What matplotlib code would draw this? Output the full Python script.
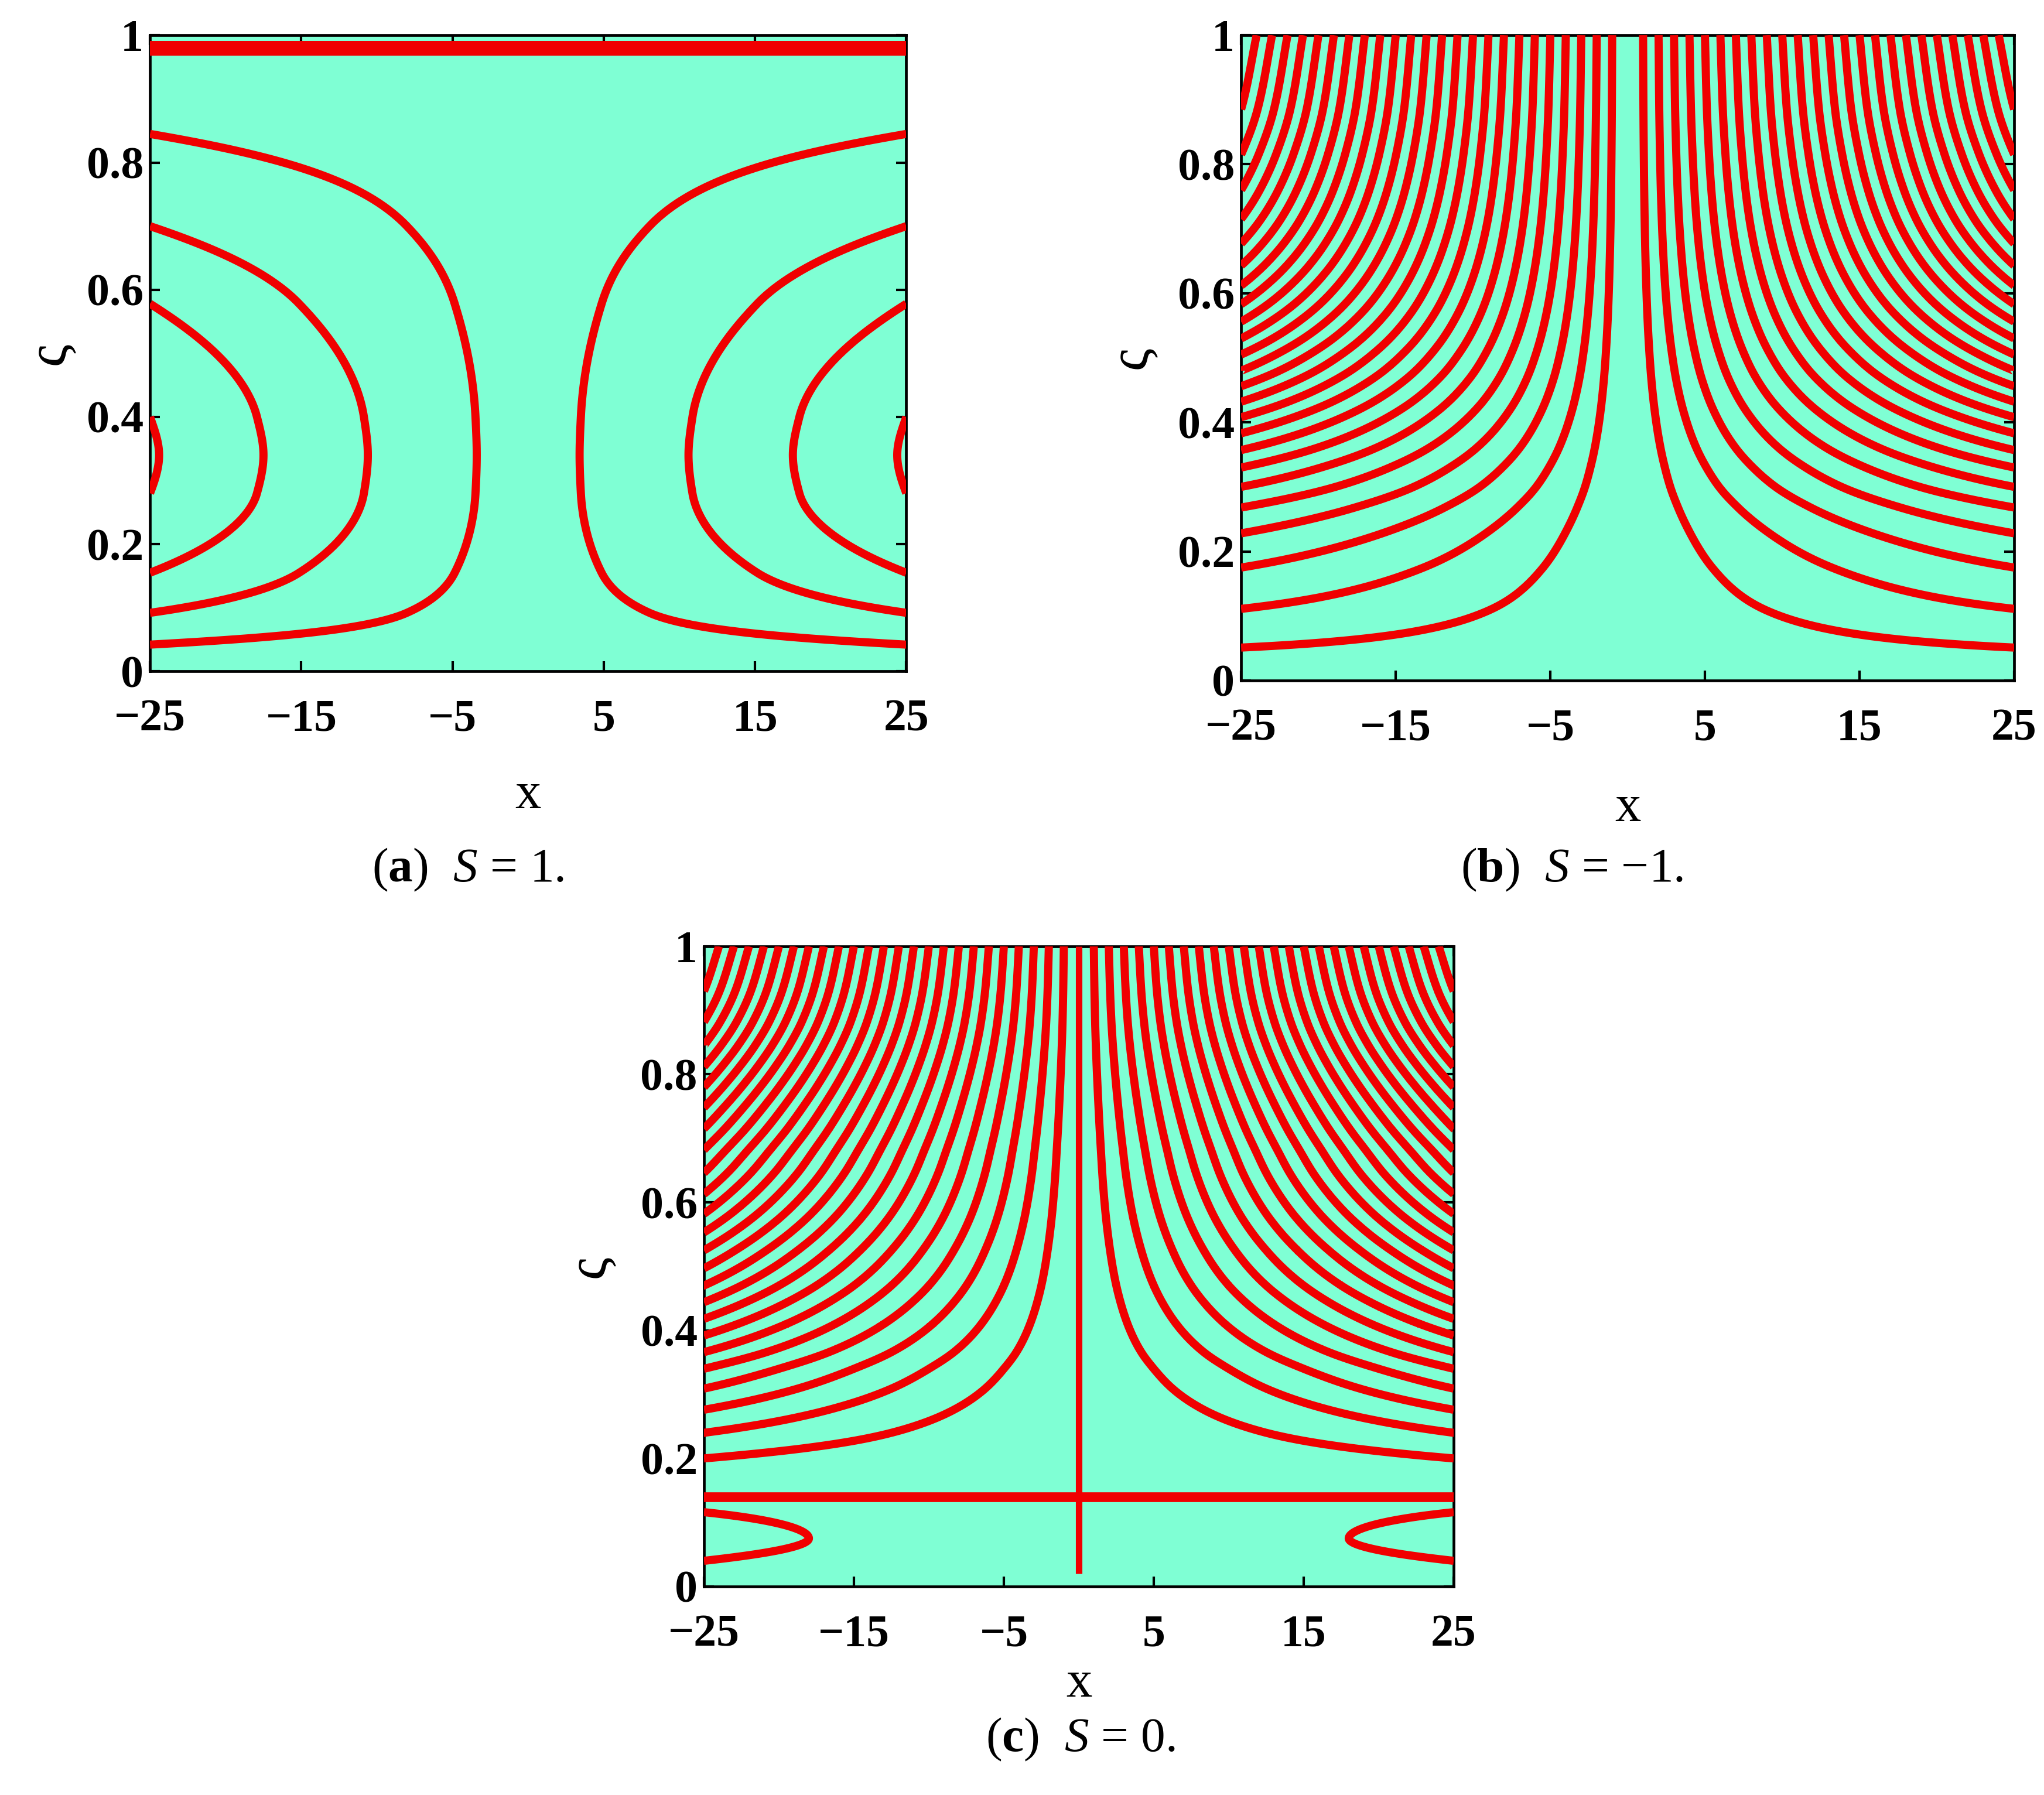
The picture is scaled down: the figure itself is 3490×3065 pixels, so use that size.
import numpy as np
import matplotlib.pyplot as plt

plt.rcParams['font.family'] = ['Liberation Serif', 'DejaVu Serif']
plt.rcParams['mathtext.fontset'] = 'custom'
plt.rcParams['mathtext.rm'] = 'Liberation Serif'
plt.rcParams['mathtext.it'] = 'Liberation Serif:italic'
plt.rcParams['mathtext.bf'] = 'Liberation Serif:bold'

# ---- values ----
x_ticks = [-25, -15, -5, 5, 15, 25]
x_ticklabels = ['\u221225', '\u221215', '\u22125', '5', '15', '25']
y_ticks = [0, 0.2, 0.4, 0.6, 0.8, 1]
y_ticklabels = ['0', '0.2', '0.4', '0.6', '0.8', '1']
x_half = 25

# (a) S = 1 : streamlines turning back towards the side walls
a_vertex_x = [3.4, 10.6, 17.5, 24.4]      # x where each line turns (at zeta = a_core)
a_edge_low = [0.042, 0.092, 0.155, 0.28]  # zeta where it meets x = +-25, lower branch
a_edge_high = [0.845, 0.70, 0.578, 0.40]  # ... upper branch
a_core = 0.34
a_lid = 0.98                              # horizontal streamline near the top

# (b) S = -1 : zeta where the n-th streamline leaves x = +-25
b_edge = [0.051, 0.111, 0.175, 0.228, 0.268, 0.300, 0.330, 0.357, 0.383,
          0.408, 0.432, 0.456, 0.480, 0.505, 0.530, 0.556, 0.583, 0.612,
          0.643, 0.677, 0.715, 0.760, 0.815, 0.885, 1.0]
b_bend = 25.0

# (c) S = 0
c_edge = [0.20, 0.24, 0.276, 0.309, 0.34, 0.366, 0.392, 0.418, 0.444,
          0.47, 0.497, 0.525, 0.553, 0.582, 0.613, 0.646, 0.682, 0.715,
          0.748, 0.78, 0.812, 0.845, 0.882, 0.93, 1.0]
c_loop_vertex_x = 18.0
c_loop_edge = [0.04, 0.116]
c_loop_core = 0.075
c_split = 0.14        # horizontal dividing streamline
c_stem_bottom = 0.02  # lower end of the vertical streamline x = 0

captions = ['($\\mathbf{a}$)  $S$ = 1.', '($\\mathbf{b}$)  $S$ = \u22121.', '($\\mathbf{c}$)  $S$ = 0.']

RED = '#f00000'
BG = '#7fffd4'


def smooth_profile(zk, fk, z):
    # monotone cubic (pchip style) through the read values
    order = np.argsort(zk)
    zk = np.asarray(zk, float)[order]
    fk = np.asarray(fk, float)[order]
    h = np.diff(zk)
    d = np.diff(fk) / h
    m = np.zeros_like(fk)
    for i in range(1, len(zk) - 1):
        if d[i - 1] * d[i] > 0:
            w1 = 2 * h[i] + h[i - 1]
            w2 = h[i] + 2 * h[i - 1]
            m[i] = (w1 + w2) / (w1 / d[i - 1] + w2 / d[i])
    m[0] = d[0]
    m[-1] = d[-1]
    k = np.clip(np.searchsorted(zk, z) - 1, 0, len(h) - 1)
    t = (z - zk[k]) / h[k]
    return ((2 * t**3 - 3 * t**2 + 1) * fk[k] + (t**3 - 2 * t**2 + t) * h[k] * m[k]
            + (-2 * t**3 + 3 * t**2) * fk[k + 1] + (t**3 - t**2) * h[k] * m[k + 1])


xs = np.linspace(-x_half, x_half, 1201)
zs = np.linspace(0, 1, 1201)
X, Z = np.meshgrid(xs, zs)

# panel a field
za = [0] + a_edge_low + [a_core] + a_edge_high + [a_lid, 1.0]
fa = [0] + [v / x_half for v in a_vertex_x] + [1.0] + [v / x_half for v in a_vertex_x] + [0, -0.02]
psi_a = X * smooth_profile(za, fa, Z)
lev_a = sorted([-v for v in a_vertex_x]) + a_vertex_x


# panel b field
def bend(x):
    return x / (1 + np.abs(x) / b_bend)


nb = np.arange(1, len(b_edge) + 1)
zb = [0] + b_edge
fb = [0] + list(bend(nb) / bend(x_half))
psi_b = bend(X) * smooth_profile(zb, fb, Z)
pos_b = list(bend(nb[:-1]))
lev_b = sorted([-v for v in pos_b]) + pos_b

# panel c field
nc = np.arange(1, len(c_edge) + 1)
zc = [0, c_loop_edge[0], c_loop_core, c_loop_edge[1], c_split] + c_edge
fc = [0, -1 / x_half, -1 / c_loop_vertex_x, -1 / x_half, 0] + list(nc / x_half)
psi_c = X * smooth_profile(zc, fc, Z)
pos_c = list(nc[:-1].astype(float))
lev_c = sorted([-v for v in pos_c]) + pos_c

fig = plt.figure(figsize=(34.9, 30.65), dpi=100)
ax_a = fig.add_axes([0.0734, 0.626, 0.370, 0.3543])
ax_b = fig.add_axes([0.6072, 0.6209, 0.3782, 0.3595])
ax_c = fig.add_axes([0.3444, 0.1162, 0.3668, 0.3566])

panels = [(ax_a, psi_a, lev_a, -0.215, -0.131),
          (ax_b, psi_b, lev_b, -0.218, -0.140),
          (ax_c, psi_c, lev_c, -0.172, -0.150)]

for ax, psi, lev, xl_y, yl_x in panels:
    ax.set_facecolor(BG)
    ax.contour(X, Z, psi, levels=lev, colors=RED, linewidths=10,
               linestyles='solid', zorder=3)
    ax.set_xlim(-x_half, x_half)
    ax.set_ylim(0, 1)
    ax.set_xticks(x_ticks)
    ax.set_xticklabels(x_ticklabels)
    ax.set_yticks(y_ticks)
    ax.set_yticklabels(y_ticklabels)
    ax.tick_params(direction='in', top=True, right=True, length=12, width=3,
                   labelsize=56, pad=8)
    ax.tick_params(axis='x', pad=34)
    for lab in ax.get_xticklabels() + ax.get_yticklabels():
        lab.set_fontweight('bold')
    for sp in ax.spines.values():
        sp.set_linewidth(3.4)
        sp.set_color('black')
    ax.set_xlabel('x', fontsize=64, va='baseline')
    ax.xaxis.set_label_coords(0.5, xl_y)
    ax.set_ylabel('\u03c2', fontsize=70, va='center')
    ax.yaxis.set_label_coords(yl_x, 0.5)

# zero streamlines
ax_a.axhline(a_lid, color=RED, lw=18, zorder=3)
ax_c.axhline(c_split, color=RED, lw=12, zorder=3)
ax_c.plot([0, 0], [c_stem_bottom, 1], color=RED, lw=8, zorder=3, solid_capstyle='butt')

fig.text(0.229, 0.5155, captions[0], fontsize=60, ha='center', va='center')
fig.text(0.769, 0.5155, captions[1], fontsize=60, ha='center', va='center')
fig.text(0.5287, 0.0310, captions[2], fontsize=60, ha='center', va='center')

fig.savefig('out.png', dpi=100)
